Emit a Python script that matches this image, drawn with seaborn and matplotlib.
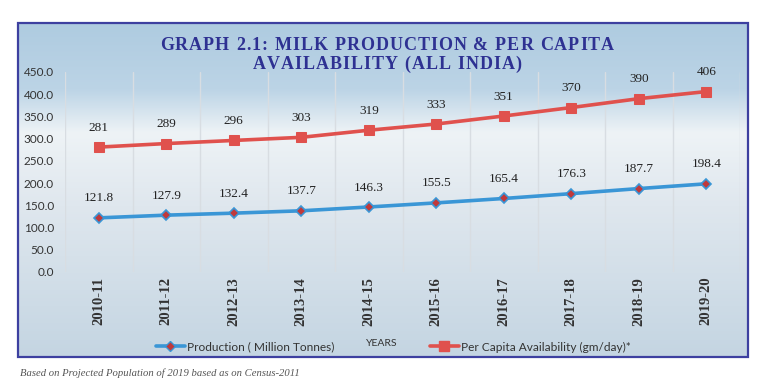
import numpy as np
import pandas as pd
import matplotlib
matplotlib.use("Agg")
import matplotlib.pyplot as plt
from matplotlib.lines import Line2D
from matplotlib.patches import Rectangle
import seaborn as sns

years = ["2010-11", "2011-12", "2012-13", "2013-14", "2014-15",
         "2015-16", "2016-17", "2017-18", "2018-19", "2019-20"]
production = [121.8, 127.9, 132.4, 137.7, 146.3, 155.5, 165.4, 176.3, 187.7, 198.4]
per_capita = [281, 289, 296, 303, 319, 333, 351, 370, 390, 406]

prod_label = "Production ( Million Tonnes)"
pc_label = "Per Capita Availability (gm/day)*"
title_lines = ["GRAPH 2.1: MILK PRODUCTION & PER CAPITA", "AVAILABILITY (ALL INDIA)"]
footer = "Based on Projected Population of 2019 based as on Census-2011"

blue = "#3a96d6"
red = "#e0514d"
dark_red = "#c0393b"

df = pd.DataFrame({"year": years, "prod": production, "pc": per_capita})
df["x"] = range(len(df))

sns.set_theme(style="white")
plt.rcParams["font.family"] = ["Lato", "DejaVu Sans"]

W, H = 768, 391
fig = plt.figure(figsize=(W / 100, H / 100), dpi=100)

# gradient background inside the border box
bx0, by0, bx1, by1 = 18, 23, 748, 357
bg = fig.add_axes([bx0 / W, 1 - by1 / H, (bx1 - bx0) / W, (by1 - by0) / H], zorder=0)
stops = [(0.0, "#aecbe0"), (0.2, "#bcd4e6"), (0.33, "#eef3f6"), (0.55, "#dfe7ee"), (1.0, "#c4d5e2")]
n = 300
t = np.linspace(0, 1, n)
cols = np.zeros((n, 3))
pos = [s[0] for s in stops]
rgb = np.array([matplotlib.colors.to_rgb(s[1]) for s in stops])
for k in range(3):
    cols[:, k] = np.interp(t, pos, rgb[:, k])
bg.imshow(cols[:, None, :], aspect="auto", extent=[0, 1, 1, 0])
bg.set_axis_off()
fig.patches.append(Rectangle((bx0 / W, 1 - by1 / H), (bx1 - bx0) / W, (by1 - by0) / H,
                             transform=fig.transFigure, fill=False,
                             edgecolor="#3d40a0", linewidth=1.6, zorder=5))

ax = fig.add_axes([65 / W, 1 - 272 / H, (740 - 65) / W, 200 / H], zorder=2)
ax.patch.set_alpha(0)

sns.lineplot(data=df, x="x", y="pc", ax=ax, color=red, linewidth=2.6,
             marker="s", markersize=7.5, markerfacecolor=red, markeredgecolor=red)
sns.lineplot(data=df, x="x", y="prod", ax=ax, color=blue, linewidth=2.6,
             marker="D", markersize=5.5, markerfacecolor=dark_red,
             markeredgecolor=blue, markeredgewidth=1.2)

for i, (p, c) in enumerate(zip(production, per_capita)):
    ax.annotate(f"{p:.1f}", (i, p), xytext=(0, 14), textcoords="offset points",
                ha="center", va="center", fontsize=9.5, family="Liberation Serif",
                color="#222222")
    ax.annotate(f"{c}", (i, c), xytext=(0, 14), textcoords="offset points",
                ha="center", va="center", fontsize=9.5, family="Liberation Serif",
                color="#222222")

ax.set_xlim(-0.5, len(years) - 0.5)
ax.set_ylim(0, 450)
ax.set_yticks(np.arange(0, 451, 50))
ax.set_yticklabels([f"{v:.1f}" for v in np.arange(0, 451, 50)], fontsize=8.5, color="#333333")
ax.set_xticks(df["x"])
ax.set_xticklabels(years, rotation=90, fontsize=10.5, family="Liberation Serif",
                   fontweight="bold", color="#333333", va="top")
ax.tick_params(axis="y", length=0, pad=8)
ax.tick_params(axis="x", length=0, pad=3.5)
for xv in np.arange(-0.5, len(years), 1.0):
    ax.axvline(xv, color="#d8dde2", linewidth=1, zorder=0)
for s in ax.spines.values():
    s.set_visible(False)
ax.set_xlabel("")
ax.set_ylabel("")

# title with letter spacing: place each character separately
renderer = fig.canvas.get_renderer()
tprops = dict(fontsize=13, family="Liberation Serif", fontweight="bold", color="#2e3192")
spacing = 1.0  # px between letters
for line, yc in zip(title_lines, [43, 62.5]):
    widths = []
    for ch in line:
        tmp = fig.text(0, 0, "a" if ch == " " else ch, **tprops)
        w = tmp.get_window_extent(renderer).width
        tmp.remove()
        widths.append(w * 0.55 if ch == " " else w)
    total = sum(widths) + spacing * (len(line) - 1)
    x = 387 - total / 2
    for ch, w in zip(line, widths):
        if ch != " ":
            fig.text(x / W, 1 - yc / H, ch, ha="left", va="center_baseline", zorder=6, **tprops)
        x += w + spacing

h1 = Line2D([], [], color=blue, linewidth=2.6, marker="D", markersize=5,
            markerfacecolor=dark_red, markeredgecolor=blue)
h2 = Line2D([], [], color=red, linewidth=2.6, marker="s", markersize=7, markerfacecolor=red,
            markeredgecolor=red)
for h, lab, xp in [(h1, prod_label, 150), (h2, pc_label, 424)]:
    fig.legend([h], [lab], loc="center left", bbox_to_anchor=(xp / W, 1 - 347 / H),
               frameon=False, fontsize=8.6, handlelength=2.4, handletextpad=0.2,
               borderpad=0, labelcolor="#333333")
fig.text(366 / W, 1 - 343 / H, "YEARS", ha="left", va="center", fontsize=7.5, color="#333333")
fig.text(20 / W, 1 - 373 / H, footer, ha="left", va="center", fontsize=7.7,
         family="Liberation Serif", style="italic", color="#555555")

fig.savefig("out.png", dpi=100)
